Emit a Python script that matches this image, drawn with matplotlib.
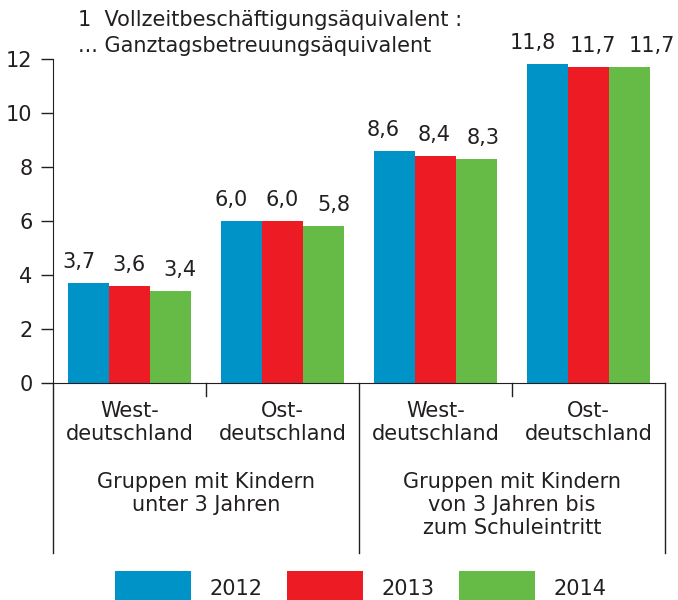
import matplotlib.pyplot as plt
from matplotlib.lines import Line2D

# ----------------------------------------------------------------
# data

regions = ["West-\ndeutschland", "Ost-\ndeutschland", "West-\ndeutschland", "Ost-\ndeutschland"]
age_groups = ["Gruppen mit Kindern\nunter 3 Jahren", "Gruppen mit Kindern\nvon 3 Jahren bis\nzum Schuleintritt"]
years = ["2012", "2013", "2014"]
values_2012 = [3.7, 6.0, 8.6, 11.8]
values_2013 = [3.6, 6.0, 8.4, 11.7]
values_2014 = [3.4, 5.8, 8.3, 11.7]
yticks = [0, 2, 4, 6, 8, 10, 12]
note_lines = ["1  Vollzeitbeschäftigungsäquivalent :", "... Ganztagsbetreuungsäquivalent"]

# ----------------------------------------------------------------
# style

color_list = ["#0093c7", "#ed1c24", "#65bb46"]
txt_col = "#231f20"
fsize = 15
barWidth = 0.268
# horizontal nudge of the value labels (pixels), per group and per year
label_shift = [[-10, -1, 9.5], [-10, 0, 10], [-11, -1, 7], [-15, 4, 22.5]]
plt.rcParams['font.family'] = ['DejaVu Sans']
plt.rcParams['text.color'] = txt_col

# ----------------------------------------------------------------

fig = plt.figure(figsize=(6.78, 6.0), dpi=100)
ax = fig.add_axes([53/678, 1-383/600, 612/678, 324/600])

series = [values_2012, values_2013, values_2014]
x = list(range(len(regions)))
for i in range(len(series)):
        pos = [r + (i-1)*barWidth for r in x]
        ax.bar(pos, series[i], width=barWidth, color=color_list[i], label=years[i], linewidth=0)
        for j in range(len(pos)):
                v = series[i][j]
                ax.annotate(f"{v:.1f}".replace(".", ","), (pos[j], v),
                            xytext=(label_shift[j][i]*0.72, 11), textcoords='offset points',
                            ha='center', va='baseline', fontsize=fsize, color=txt_col)

ax.set_xlim(-0.5, len(regions)-0.5)
ax.set_ylim(0, 12)
ax.set_yticks(yticks)
ax.set_yticklabels([str(t) for t in yticks], fontsize=fsize, color=txt_col)
ax.tick_params(axis='y', length=9, width=1, color=txt_col, pad=5.8)
ax.set_xticks([])
for s in ['top', 'right']:
        ax.spines[s].set_visible(False)
ax.spines['left'].set_color(txt_col)
ax.spines['bottom'].set_color(txt_col)

# category separators below the axis
tr = ax.get_xaxis_transform()
for xs in [-0.5, 1.5, 3.5]:
        ax.add_line(Line2D([xs, xs], [0, -0.525], transform=tr, color=txt_col, lw=1, clip_on=False))
for xs in [0.5, 2.5]:
        ax.add_line(Line2D([xs, xs], [0, -0.04], transform=tr, color=txt_col, lw=1, clip_on=False))

for r in x:
        ax.text(r, -0.055, regions[r], transform=tr, ha='center', va='top', fontsize=fsize,
                linespacing=1.2, color=txt_col)
for g in range(len(age_groups)):
        ax.text(2*g + 0.5, -0.275, age_groups[g], transform=tr, ha='center', va='top', fontsize=fsize,
                linespacing=1.2, color=txt_col)

fig.text(78/678, 1-20.5/600, note_lines[0], ha='left', va='center', fontsize=fsize, color=txt_col)
fig.text(78/678, 1-46/600, note_lines[1], ha='left', va='center', fontsize=fsize, color=txt_col)

fig.legend(loc='lower center', bbox_to_anchor=(0.532, -6/600), ncol=3, frameon=False, fontsize=fsize,
           handlelength=3.65, handleheight=2.2, handletextpad=0.9, columnspacing=1.15,
           borderpad=0, borderaxespad=0)

fig.savefig("out.png", dpi=100)
